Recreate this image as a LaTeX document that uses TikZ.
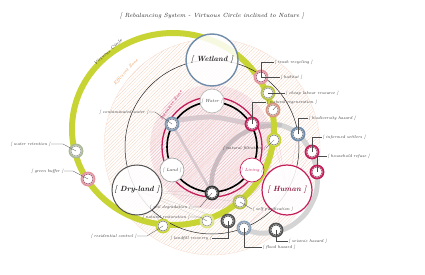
\documentclass[tikz,border=0pt]{standalone}
\usetikzlibrary{patterns.meta}
\definecolor{ygreen}{RGB}{200,212,52}
\definecolor{crim}{RGB}{196,30,90}
\definecolor{steel}{RGB}{112,140,170}
\definecolor{peach}{RGB}{240,190,160}
\definecolor{orng}{RGB}{232,150,80}
\definecolor{bandc}{RGB}{212,212,212}
\definecolor{dgrey}{RGB}{85,85,85}
\definecolor{rosy}{RGB}{228,150,160}
\definecolor{brick}{RGB}{214,150,130}
\definecolor{sage}{RGB}{170,185,150}
\definecolor{humtext}{RGB}{140,20,60}
\tikzset{
 lbl/.style={font=\fontsize{4.2}{5}\selectfont\itshape, text=black!80, inner sep=0.4pt},
 leader/.style={draw=black!70, line width=0.3pt},
 bigc/.style={circle, inner sep=0pt, fill=white, fill opacity=0.85, text opacity=1, font=\fontsize{7.5}{9}\selectfont\bfseries\itshape},
 midc/.style={circle, minimum size=24pt, inner sep=0pt, fill=white, font=\fontsize{4.5}{5}\selectfont\itshape, line width=0.7pt},
 sn/.style={circle, minimum size=13pt, inner sep=0pt, fill=white, line width=1.8pt},
 zonelbl/.style={font=\fontsize{4.6}{5}\selectfont\itshape, inner sep=0pt},
 fanh/.style={draw=crim!30, line width=0.2pt},
 fand/.style={draw=gray!45, line width=0.2pt},
}
\newcommand{\snode}[3]{%
  \node[sn, draw=#2] (#1) at (p#1) {};
  \draw[line width=0.35pt, draw=#3] (#1.center) circle (5.1);
}
\begin{document}
\begin{tikzpicture}[x=1pt,y=-1pt]
\useasboundingbox (0,0) rectangle (425,275);
\fill[white] (0,0) rectangle (425,275);
% centres
\coordinate (C) at (212,147);
\coordinate (pwet) at (212,60);
\coordinate (pdry) at (137,190);
\coordinate (phu) at (287,190);
\coordinate (p1) at (261,77);
\coordinate (p2) at (268,93);
\coordinate (p3) at (273,110);
\coordinate (p4) at (274,140);
\coordinate (pbio) at (298,134);
\coordinate (pinf) at (312,152);
\coordinate (phouse) at (317,172);
\coordinate (pseis) at (276,230);
\coordinate (pflood) at (244,228);
\coordinate (pself) at (240,202);
\coordinate (pna) at (228,221);
\coordinate (pnb) at (207,221);
\coordinate (pres) at (163,226);
\coordinate (psoil) at (212,193);
\coordinate (pR) at (252,124);
\coordinate (pcont) at (172,124);
\coordinate (pwat) at (76,151);
\coordinate (pgreen) at (88,179);
% efficient zone
\path[pattern={Lines[angle=45,distance=2.4pt,line width=0.25pt]}, pattern color=peach!75] (C) circle (108);
\draw[peach!55, line width=0.3pt] (C) circle (108);
% grey bands
\draw[bandc, line width=5pt, line cap=round] plot[smooth] coordinates {(172,121) (212,117) (252,124) (280,125) (298,134) (311,152) (317,172) (316,193) (306,213) (291,226) (275,232) (258,233) (244,229)};
\draw[bandc!92!black, line width=4.5pt, line cap=round] plot[smooth] coordinates {(280,125) (255,128) (236,138) (222,153) (213,172) (211,192)};
\draw[bandc, line width=2.5pt] (pcont) -- (psoil);
% fan lines
\foreach \q in {pbio,pinf,phouse,p4,p3,pseis,pflood} \draw[fanh] (phu) -- (\q);
\foreach \q in {psoil,pna,pnb,pres,pself} \draw[fand] (pdry) -- (\q);
% intensive zone
\fill[crim, opacity=0.04] (C) circle (62);
\path[pattern={Lines[angle=45,distance=2.2pt,line width=0.25pt]}, pattern color=crim!30] (C) circle (62);
% virtuous circle
\draw[ygreen, line width=6pt] (173,129) ellipse [x radius=101, y radius=96];
% rings
\draw[black!85, line width=0.5pt] (C) circle (87);
\draw[crim, line width=1.3pt] (C) circle (50);
\draw[black, line width=1.6pt] (C) circle (45);
% big circles
\node[bigc, minimum size=52pt, draw=steel, line width=1.4pt, text=black!85] (wet) at (pwet) {[ Wetland ]};
\node[bigc, minimum size=50pt, draw=dgrey, line width=1pt, text=black!90] (dry) at (pdry) {[ Dry-land ]};
\node[bigc, minimum size=50pt, draw=crim, line width=1.2pt, text=humtext] (hum) at (phu) {[ Human ]};
% mid circles
\node[midc, draw=gray!55, text=black!80] (water) at (212,101) {[ Water ]};
\node[midc, draw=gray!70, text=black!80] (land) at (172,170) {[ Land ]};
\node[midc, draw=crim, text=crim] (living) at (252,170) {[ Living ]};
% small nodes
\snode{1}{rosy}{crim!60!black}
\snode{2}{ygreen!80!gray}{black!60}
\snode{3}{brick}{brick!60!black}
\snode{4}{ygreen}{black!70}
\snode{bio}{steel}{steel!50!black}
\snode{inf}{crim}{crim!60!black}
\snode{house}{crim}{crim!60!black}
\snode{seis}{dgrey}{black}
\snode{flood}{steel!80}{steel!50!black}
\snode{self}{ygreen!75!gray}{black!60}
\snode{na}{dgrey}{black}
\snode{nb}{ygreen!60!white}{black!60}
\snode{res}{ygreen}{black!70}
\snode{soil}{black!80}{black}
\snode{R}{crim}{crim!60!black}
\snode{cont}{steel!90}{steel!50!black}
\snode{wat}{sage}{black!55}
\snode{green}{rosy}{crim!60!black}
\draw[leader] (3.center) -- ++(3,-3.5);
% zone labels
\node[zonelbl, text=black!85, rotate=42] (vc) at (108,52) {Virtuous Circle};
\node[zonelbl, text=orng, rotate=47] (ez) at (126,72) {Efficient Zone};
\node[zonelbl, text=crim, rotate=55] (iz) at (171,105) {Intensive Zone};
% labels
\node[lbl, anchor=west] (lt) at (274,62) {[ trash recycling ]};
\node[lbl, anchor=west] (lh) at (280,77) {[ habitat ]};
\node[lbl, anchor=west] (lc) at (285,93) {[ cheap labour resource ]};
\node[lbl, anchor=west] (lnr) at (266,102) {[ natural regeneration ]};
\node[lbl, anchor=east] (lnf) at (266,148) {[ natural filtration ]};
\node[lbl, anchor=west] (lb) at (308,118) {[ biodiversity hazard ]};
\node[lbl, anchor=west] (li) at (322,137) {[ informed settlers ]};
\node[lbl, anchor=west] (lhr) at (327,156) {[ household refuse ]};
\node[lbl, anchor=west] (lsh) at (288,241) {[ seismic hazard ]};
\node[lbl, anchor=west] (lfh) at (262,247) {[ flood hazard ]};
\node[lbl, anchor=west] (lsp) at (252,209) {[ self purification ]};
\node[lbl, anchor=east] (lsd) at (191,207) {[ soil degradation ]};
\node[lbl, anchor=east] (lnrs) at (190,217) {[ natural restoration ]};
\node[lbl, anchor=east] (llr) at (212,238) {[ landfill recovery ]};
\node[lbl, anchor=east] (lrc) at (137,236) {[ residential control ]};
\node[lbl, anchor=east] (lwr) at (51,144) {[ water retention ]};
\node[lbl, anchor=east] (lgb) at (64,171) {[ green buffer ]};
\node[lbl, anchor=east] (lcw) at (149,112) {[ contaminated water ]};
% leaders
\draw[leader] (1.center) |- (lt.west);
\draw[leader] (1.center) -- (lh.west);
\draw[leader] (2.center) -- (lc.west);
\draw[leader] (R.center) |- (lnr.west);
\draw[leader] (lnf.east) -- (4.center);
\draw[leader] (bio.center) |- (lb.west);
\draw[leader] (inf.center) |- (li.west);
\draw[leader] (house.center) |- (lhr.west);
\draw[leader] (seis.center) |- (lsh.west);
\draw[leader] (flood.center) |- (lfh.west);
\draw[leader] (self.center) -- (lsp.west);
\draw[leader] (lsd.east) -- ++(9,0) -- (soil.center);
\draw[leader] (lnrs.east) -- ++(10,0) -- (nb.center);
\draw[leader] (llr.east) -| (na.center);
\draw[leader] (lrc.east) -- ++(10,0) -- (res.center);
\draw[leader] (lwr.east) -- ++(12,0) -- (wat.center);
\draw[leader] (lgb.east) -- ++(9,0) -- (green.center);
\draw[leader] (lcw.east) -- ++(6,0) -- (cont.center);
% title
\node[font=\fontsize{6}{7}\selectfont\itshape, text=black!85] (title) at (212,16) {[ Rebalancing System - Virtuous Circle inclined to Nature ]};
\end{tikzpicture}
\end{document}
